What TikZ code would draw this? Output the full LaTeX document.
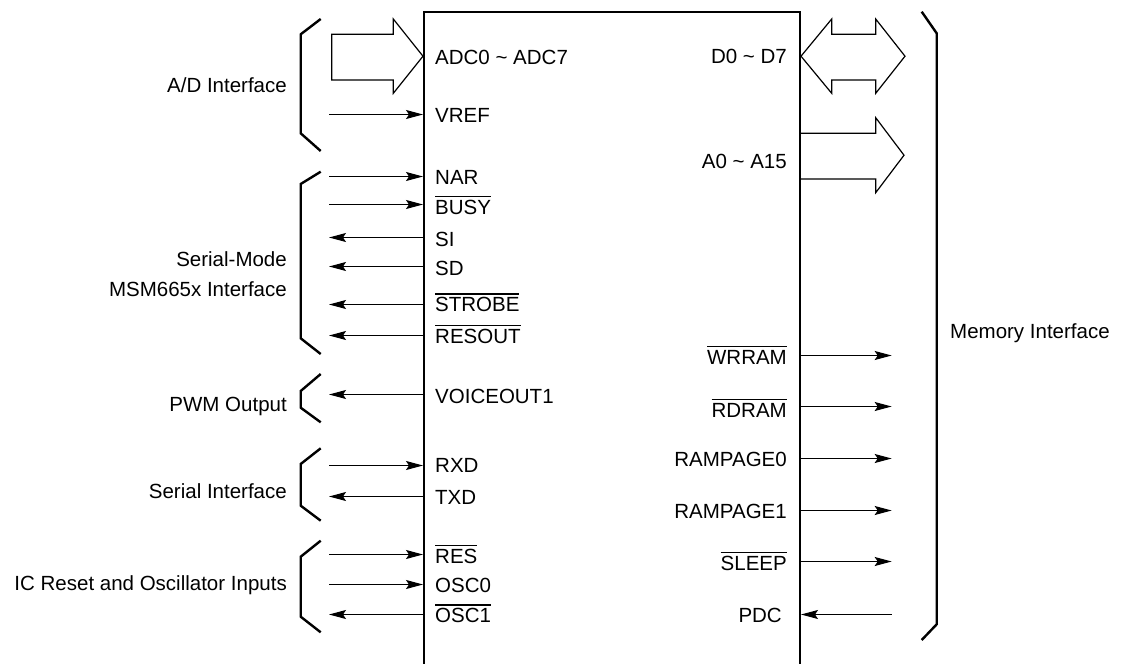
\documentclass[tikz,border=0pt]{standalone}
\usepackage{fontspec}
\setmainfont{Liberation Sans}
\usetikzlibrary{arrows.meta}
\newcommand\ovl[1]{\vbox{\hrule height 1.2pt\kern 2.8pt\hbox{#1}}}
\tikzset{
  lbl/.style={inner sep=0pt, font=\fontsize{20.5}{24}\selectfont},
  pinL/.style={lbl, anchor=base west},
  pinR/.style={lbl, anchor=base east},
  grpL/.style={lbl, anchor=base east, align=right},
  sig/.style={line width=1.3pt, -{Stealth[length=17pt,width=9pt,inset=3pt]}},
  bus/.style={line width=1.2pt, line join=miter},
  brace/.style={line width=2.4pt, line join=miter},
  chipbox/.style={draw, line width=2pt, inner sep=0pt}
}
\begin{document}
\begin{tikzpicture}[x=1pt,y=-1pt]
\useasboundingbox (0,0) rectangle (1128,664);
% chip
\node[chipbox, anchor=north west, minimum width=376pt, minimum height=680pt] (chip) at (423,11) {};

% ---- left pins ----
\node[pinL] (adc) at (435,64) {ADC0 \char`\~{} ADC7};
\node[pinL] (vref) at (435,122) {VREF};
\node[pinL] (nar) at (435,184) {NAR};
\node[pinL] (busy) at (435,214) {\ovl{BUSY}};
\node[pinL] (si) at (435,246) {SI};
\node[pinL] (sd) at (435,275) {SD};
\node[pinL] (strobe) at (435,311.7) {\ovl{STROBE}};
\node[pinL] (resout) at (435,343.3) {\ovl{RESOUT}};
\node[pinL] (voice) at (435,403.3) {VOICEOUT1};
\node[pinL] (rxd) at (435,472.7) {RXD};
\node[pinL] (txd) at (435,504) {TXD};
\node[pinL] (res) at (435,563.3) {\ovl{RES}};
\node[pinL] (osc0) at (435,592.7) {OSC0};
\node[pinL] (osc1) at (435,622.7) {\ovl{OSC1}};

% ---- right pins ----
\node[pinR] (d) at (787,63.3) {D0 \char`\~{} D7};
\node[pinR] (a) at (787,168.3) {A0 \char`\~{} A15};
\node[pinR] (wrram) at (787,364.3) {\ovl{WRRAM}};
\node[pinR] (rdram) at (787,417.3) {\ovl{RDRAM}};
\node[pinR] (rp0) at (787,466.7) {RAMPAGE0};
\node[pinR] (rp1) at (787,518.3) {RAMPAGE1};
\node[pinR] (sleep) at (787,570) {\ovl{SLEEP}};
\node[pinR] (pdc) at (782,622.3) {PDC};

% ---- group labels ----
\node[grpL] (gad) at (287,92) {A/D Interface};
\node[grpL] (gser1) at (287,266.7) {Serial-Mode};
\node[grpL] (gser2) at (287,296.7) {MSM665x Interface};
\node[grpL] (gpwm) at (287,411) {PWM Output};
\node[grpL] (gsi) at (287,498.3) {Serial Interface};
\node[grpL] (gic) at (287,590.7) {IC Reset and Oscillator Inputs};
\node[lbl, anchor=base west] (gmem) at (950,338.3) {Memory Interface};

% ---- left signal lines ----
\coordinate (cVREF) at (329,114.5);
\coordinate (cNAR) at (329,176.5);
\coordinate (cBUSY) at (329,204.5);
\coordinate (cSI) at (329,237.5);
\coordinate (cSD) at (329,266.5);
\coordinate (cSTROBE) at (329,304.5);
\coordinate (cRESOUT) at (329,335.5);
\coordinate (cVOICE) at (329,394.5);
\coordinate (cRXD) at (329,465.5);
\coordinate (cTXD) at (329,496.5);
\coordinate (cRES) at (329,554.5);
\coordinate (cOSC0) at (329,584.5);
\coordinate (cOSC1) at (329,614.5);
\draw[sig] (cVREF) -- (cVREF -| chip.west);
\draw[sig] (cNAR) -- (cNAR -| chip.west);
\draw[sig] (cBUSY) -- (cBUSY -| chip.west);
\draw[sig] (cSI -| chip.west) -- (cSI);
\draw[sig] (cSD -| chip.west) -- (cSD);
\draw[sig] (cSTROBE -| chip.west) -- (cSTROBE);
\draw[sig] (cRESOUT -| chip.west) -- (cRESOUT);
\draw[sig] (cVOICE -| chip.west) -- (cVOICE);
\draw[sig] (cRXD) -- (cRXD -| chip.west);
\draw[sig] (cTXD -| chip.west) -- (cTXD);
\draw[sig] (cRES) -- (cRES -| chip.west);
\draw[sig] (cOSC0) -- (cOSC0 -| chip.west);
\draw[sig] (cOSC1 -| chip.west) -- (cOSC1);

% ---- right signal lines ----
\coordinate (cWRRAM) at (891.7,355.5);
\coordinate (cRDRAM) at (891.7,406.5);
\coordinate (cRP0) at (891.7,458.5);
\coordinate (cRP1) at (891.7,510.5);
\coordinate (cSLEEP) at (891.7,561.5);
\coordinate (cPDC) at (891.7,614.5);
\draw[sig] (cWRRAM -| chip.east) -- (cWRRAM);
\draw[sig] (cRDRAM -| chip.east) -- (cRDRAM);
\draw[sig] (cRP0 -| chip.east) -- (cRP0);
\draw[sig] (cRP1 -| chip.east) -- (cRP1);
\draw[sig] (cSLEEP -| chip.east) -- (cSLEEP);
\draw[sig] (cPDC) -- (cPDC -| chip.east);

% ---- bus arrows ----
\draw[bus] (331.7,34.3) -- (393.3,34.3) -- (393.3,19) -- (423,56.2) -- (393.3,93.3) -- (393.3,80) -- (331.7,80) -- cycle;
\draw[bus] (801,56.2) -- (831.7,19) -- (831.7,34.3) -- (875.7,34.3) -- (875.7,19) -- (905,56.2) -- (875.7,93.3) -- (875.7,80) -- (831.7,80) -- (831.7,93.3) -- cycle;
\draw[bus] (799,133.3) -- (875.7,133.3) -- (875.7,117.7) -- (904,155.2) -- (875.7,192.7) -- (875.7,179) -- (799,179);

% ---- braces ----
\draw[brace] (320.7,19) -- (300.7,34.3) -- (300.7,133.3) -- (320.7,151);
\draw[brace] (320.7,171.7) -- (300.7,184) -- (300.7,338.3) -- (320.7,354);
\draw[brace] (320.7,374) -- (300.7,391) -- (300.7,407.7) -- (320.7,422.3);
\draw[brace] (320.7,448.3) -- (300.7,464) -- (300.7,505.7) -- (320.7,520.7);
\draw[brace] (320.7,540.7) -- (300.7,556.7) -- (300.7,616.7) -- (320.7,632.3);
\draw[brace] (921.7,11.7) -- (936.7,33.3) -- (936.7,624.3) -- (921.7,640);
\end{tikzpicture}
\end{document}
